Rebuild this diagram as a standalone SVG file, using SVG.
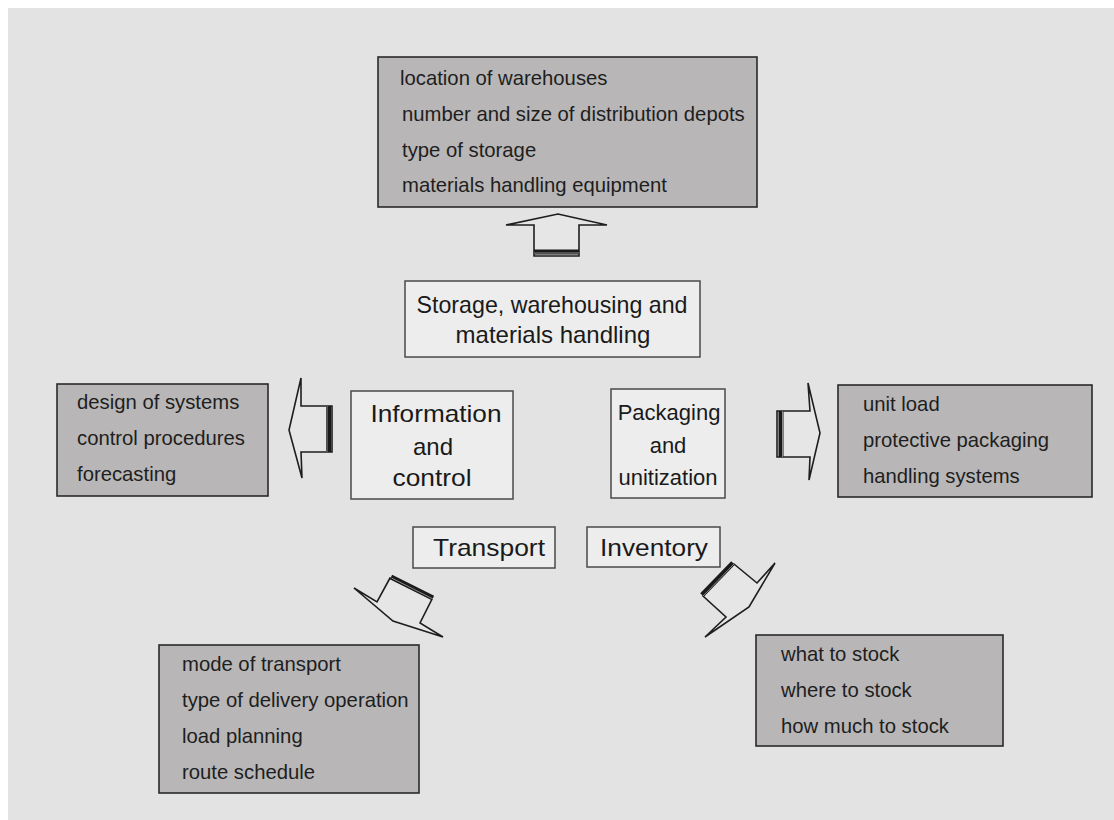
<svg xmlns="http://www.w3.org/2000/svg" width="1114" height="820" viewBox="0 0 1114 820">
<style>
.bg{fill:#e3e3e3}
.list rect{fill:#b8b6b6;stroke:#2a2a2a;stroke-width:1.6}
.list text{font-family:"Liberation Sans",Arial,sans-serif;font-size:20.3px;fill:#1e1e1e}
.node rect{fill:#ededed;stroke:#4a4a4a;stroke-width:1.5}
.node text{font-family:"Liberation Sans",Arial,sans-serif;font-size:24px;fill:#1a1a1a;text-anchor:middle}
.pk text{font-size:22px}
.arrow{fill:#e6e6e6;stroke:#1e1e1e;stroke-width:1.6;stroke-linejoin:miter}
.bar{stroke:#1a1a1a;stroke-width:5;stroke-linecap:butt}
.barin{stroke:#8a8a8a;stroke-width:1}
</style>
<rect x="0" y="0" width="1114" height="820" fill="#ffffff"/>
<rect class="bg" x="8" y="8" width="1106" height="812"/>

<g id="storage-list" class="list">
<rect x="378" y="57" width="379" height="150"/>
<text x="400" y="85">location of warehouses</text>
<text x="402" y="121">number and size of distribution depots</text>
<text x="402" y="157">type of storage</text>
<text x="402" y="192">materials handling equipment</text>
</g>

<g id="info-list" class="list">
<rect x="57" y="384" width="211" height="112"/>
<text x="77" y="409">design of systems</text>
<text x="77" y="445">control procedures</text>
<text x="77" y="481">forecasting</text>
</g>

<g id="packaging-list" class="list">
<rect x="838" y="385" width="254" height="112"/>
<text x="863" y="411">unit load</text>
<text x="863" y="447">protective packaging</text>
<text x="863" y="483">handling systems</text>
</g>

<g id="transport-list" class="list">
<rect x="159" y="645" width="260" height="148"/>
<text x="182" y="671">mode of transport</text>
<text x="182" y="707">type of delivery operation</text>
<text x="182" y="743">load planning</text>
<text x="182" y="779">route schedule</text>
</g>

<g id="inventory-list" class="list">
<rect x="756" y="635" width="247" height="111"/>
<text x="781" y="661">what to stock</text>
<text x="781" y="697">where to stock</text>
<text x="781" y="733">how much to stock</text>
</g>

<g id="storage" class="node">
<rect x="405" y="281" width="295" height="76"/>
<text x="552" y="313" textLength="271" lengthAdjust="spacingAndGlyphs">Storage, warehousing and</text>
<text x="553" y="343">materials handling</text>
</g>

<g id="information" class="node">
<rect x="351" y="391" width="162" height="108"/>
<text x="436" y="422" textLength="131" lengthAdjust="spacingAndGlyphs">Information</text>
<text x="433" y="455">and</text>
<text x="432" y="486" textLength="79" lengthAdjust="spacingAndGlyphs">control</text>
</g>

<g id="packaging" class="node pk">
<rect x="611" y="389" width="114" height="109"/>
<text x="669" y="420">Packaging</text>
<text x="668" y="453">and</text>
<text x="668" y="485">unitization</text>
</g>

<g id="transport" class="node">
<rect x="413" y="527" width="142" height="41"/>
<text x="489" y="556" textLength="112" lengthAdjust="spacingAndGlyphs">Transport</text>
</g>

<g id="inventory" class="node">
<rect x="587" y="527" width="133" height="40"/>
<text x="654" y="556" textLength="108" lengthAdjust="spacingAndGlyphs">Inventory</text>
</g>

<g id="connectors">
<path class="arrow" d="M534,256 L534,225 L506,225 L558,214 L607,225 L579,225 L579,256 Z"/>
<line class="bar" x1="534" y1="252" x2="579" y2="252"/>
<line class="barin" x1="534" y1="253" x2="579" y2="253"/>

<path class="arrow" d="M332,406 L301,406 L301,378 L289,430 L302,478 L301,452 L332,452 Z"/>
<line class="bar" x1="328.5" y1="406" x2="328.5" y2="452"/>
<line class="barin" x1="327" y1="406" x2="327" y2="452"/>

<path class="arrow" d="M777,411 L810,411 L808,383 L820,433 L809,480 L810,457 L777,457 Z"/>
<line class="bar" x1="781" y1="411" x2="781" y2="457"/>
<line class="barin" x1="782.5" y1="411" x2="782.5" y2="457"/>

<path class="arrow" d="M390,578 L377,602 L354,588 L393,621 L443,637 L420,623 L432,599 Z"/>
<line class="bar" x1="391" y1="577" x2="433" y2="598"/>
<line class="barin" x1="391.5" y1="578" x2="433" y2="599"/>

<path class="arrow" d="M734,564 L757,583 L775,563 L749,607 L705,637 L726,617 L703,596 Z"/>
<line class="bar" x1="702" y1="595" x2="733" y2="563"/>
<line class="barin" x1="703" y1="596" x2="734" y2="564"/>
</g>
</svg>
